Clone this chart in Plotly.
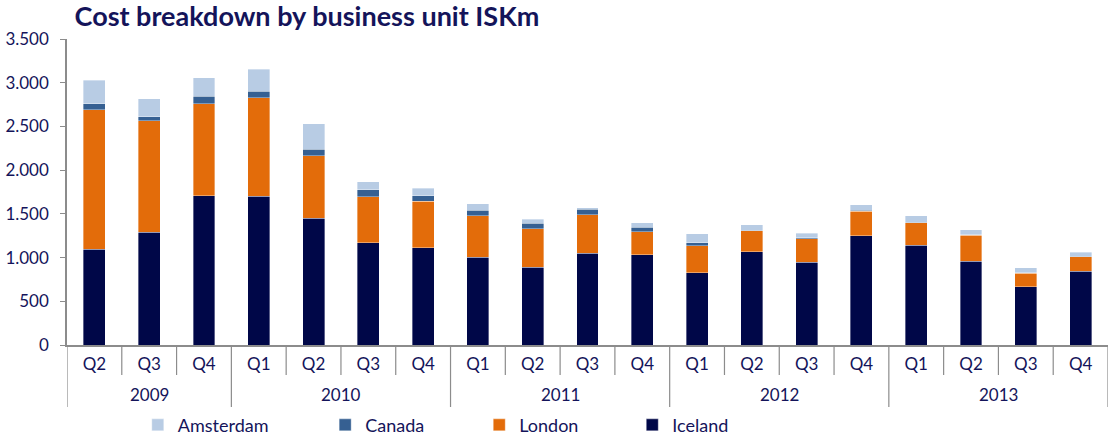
import plotly.graph_objects as go

years = ["2009"] * 3 + ["2010"] * 4 + ["2011"] * 4 + ["2012"] * 4 + ["2013"] * 4
quarters = ["Q2", "Q3", "Q4"] + ["Q1", "Q2", "Q3", "Q4"] * 4

iceland = [1095, 1290, 1706, 1702, 1447, 1169, 1112, 1003, 892, 1052, 1030,
           824, 1068, 946, 1247, 1140, 957, 667, 846]
london = [1593, 1277, 1051, 1127, 716, 529, 533, 476, 435, 439, 266,
          312, 236, 267, 282, 259, 297, 156, 164]
canada = [74, 45, 88, 76, 76, 77, 65, 61, 65, 61, 50,
          35, 8, 11, 11, 5, 5, 3, 4]
amsterdam = [268, 206, 209, 248, 290, 95, 84, 73, 49, 19, 50,
             99, 64, 53, 62, 75, 60, 58, 46]

series = [
    ("Iceland", iceland, "#000748", "legend4"),
    ("London", london, "#E36C0A", "legend3"),
    ("Canada", canada, "#366092", "legend2"),
    ("Amsterdam", amsterdam, "#B8CCE4", "legend"),
]

TXT = "#14145A"
AX = "#8C8C8C"
FONT = "Lato"

cats = [f"{y} {q}" for y, q in zip(years, quarters)]
n = len(cats)

fig = go.Figure()
for name, vals, col, lg in series:
    fig.add_trace(go.Bar(
        x=cats, y=vals, name=name, legend=lg,
        marker=dict(color=col, line=dict(color="rgba(255,255,255,0.6)", width=0.6)),
    ))

# axis decorations: quarter boundary ticks and year dividers
shapes = []
for k in range(n + 1):
    is_year_edge = k == 0 or k == n or years[k] != years[k - 1]
    shapes.append(dict(
        type="line", xref="x", yref="paper",
        x0=k - 0.5, x1=k - 0.5, y0=0, y1=-0.2026 if is_year_edge else -0.098,
        line=dict(color=AX, width=1.2),
    ))

annotations = []
uniq_years = list(dict.fromkeys(years))
for yr in uniq_years:
    idx = [i for i, y in enumerate(years) if y == yr]
    annotations.append(dict(
        x=sum(idx) / len(idx), y=-0.163, xref="x", yref="paper",
        text=yr, showarrow=False, xanchor="center", yanchor="middle",
        font=dict(family=FONT, size=17, color=TXT),
    ))

leg_common = dict(orientation="h", yanchor="middle", y=-0.262, xanchor="left",
                  font=dict(family=FONT, size=18, color=TXT),
                  bgcolor="rgba(0,0,0,0)")
leg_x = [0.068, 0.248, 0.396, 0.543]

fig.update_layout(
    barmode="stack",
    bargap=0.6,
    width=1113, height=435,
    margin=dict(l=67, r=5, t=39, b=90, autoexpand=False),
    plot_bgcolor="white", paper_bgcolor="white",
    separators=",.",
    font=dict(family=FONT, size=17, color=TXT),
    title=dict(text="<b>Cost breakdown by business unit ISKm</b>",
               x=0.067, xanchor="left", y=0.961, yanchor="middle",
               font=dict(family=FONT, size=27, color=TXT)),
    legend=dict(x=leg_x[0], **leg_common),
    legend2=dict(x=leg_x[1], **leg_common),
    legend3=dict(x=leg_x[2], **leg_common),
    legend4=dict(x=leg_x[3], **leg_common),
    showlegend=True,
    shapes=shapes,
    annotations=annotations,
)

fig.update_yaxes(range=[0, 3500], dtick=500, tickformat=",.0f",
                 showgrid=False, zeroline=False, automargin=False,
                 showline=True, linecolor=AX, linewidth=1.5,
                 ticks="outside", ticklen=5, tickcolor=AX,
                 ticklabelstandoff=8,
                 tickfont=dict(family=FONT, size=17, color=TXT))
fig.update_xaxes(type="category", showgrid=False, automargin=False,
                 range=[-0.5, n - 0.5],
                 tickvals=cats, ticktext=quarters,
                 showline=True, linecolor=AX, linewidth=1.5,
                 ticks="", ticklabelstandoff=3,
                 tickfont=dict(family=FONT, size=17, color=TXT))

fig.write_html("out.html",
               config={"displayModeBar": False},
               post_script="document.body.style.margin='0';document.body.style.overflow='hidden';")
